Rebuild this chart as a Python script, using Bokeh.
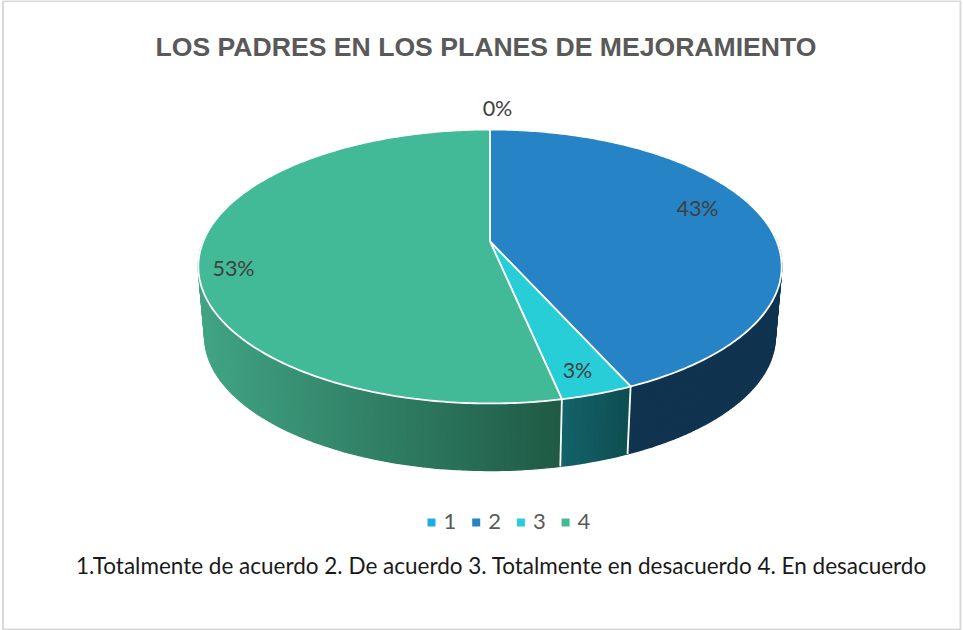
import numpy as np
from bokeh.plotting import figure
from bokeh.models import Range1d
from bokeh.core.properties import value
from bokeh.embed import file_html
from bokeh.resources import INLINE

# ---- data ----
categories = ["1", "2", "3", "4"]
shares = [0.0, 43.3, 3.4, 53.3]
pct_labels = ["0%", "43%", "3%", "53%"]
title_text = "LOS PADRES EN LOS PLANES DE MEJORAMIENTO"
note_text = "1.Totalmente de acuerdo 2. De acuerdo 3. Totalmente en desacuerdo 4. En desacuerdo"

# ---- style / layout ----
top_colors = ["#1CADE4", "#2683C6", "#27CED7", "#42BA97"]
wall_left = ["#0F4F6C", "#10344F", "#13636A", "#41A484"]
wall_right = ["#0F4F6C", "#10344F", "#0E4E50", "#1F5A45"]
label_x = [497, 697, 577, 233]
label_y = [107.5, 207.5, 369.5, 267.5]

CX, CY, RX, RY, TILT = 489.5, 241.0, 286.8, 132.4, 0.1825
SCALE, CY2 = 0.978, 311.6


def top_xy(theta):
    u, v = np.sin(theta), np.cos(theta)
    d = 1 + TILT * v
    return RX * u / d, -RY * v / d


def hexrgb(c):
    return np.array([int(c[i:i + 2], 16) for i in (1, 3, 5)], dtype=float)


def mix(a, b, f):
    r = hexrgb(a) * (1 - f) + hexrgb(b) * f
    return "#%02x%02x%02x" % tuple(int(round(x)) for x in r)


p = figure(width=963, height=630, x_range=Range1d(0, 963), y_range=Range1d(630, 0),
           output_backend="svg", toolbar_location=None, min_border=0,
           outline_line_color=None, background_fill_color="white", border_fill_color="white")
p.axis.visible = False
p.grid.visible = False

# frame
p.line([2.5, 960, 960, 2.5, 2.5], [0.5, 0.5, 629, 629, 0.5], line_color="#D9D9D9", line_width=2)

fractions = np.array(shares) / sum(shares)
edges = np.concatenate([[0], np.cumsum(fractions)]) * 2 * np.pi

# side walls (strips, front half only)
xs, ys, cs = [], [], []
for i in range(len(shares)):
    a, b = edges[i], edges[i + 1]
    if b <= a:
        continue
    t = np.linspace(a, b, max(3, int((b - a) * 60)))
    t = t[np.cos(t) < 0.05] if np.any(np.cos(t) < 0.05) else t
    dx, dy = top_xy(t)
    span = max(dx.max() - dx.min(), 1)
    for k in range(len(t) - 1):
        x1, y1 = dx[k:k + 2], dy[k:k + 2]
        xs.append(list(CX + x1) + list(CX + SCALE * x1[::-1]))
        ys.append(list(CY + y1) + list(CY2 + SCALE * y1[::-1]))
        cs.append(mix(wall_left[i], wall_right[i], (x1.mean() - dx.min()) / span))
p.patches(xs, ys, fill_color=cs, line_color=cs, line_width=1.4)

# white edges between walls
for e in edges[1:-1]:
    if np.cos(e) < 0:
        ex, ey = top_xy(np.array([e]))
        p.line([CX + ex[0], CX + SCALE * ex[0]], [CY + ey[0], CY2 + SCALE * ey[0]],
               line_color="white", line_width=1.8)

# top face
for i in range(len(shares)):
    a, b = edges[i], edges[i + 1]
    if b <= a:
        continue
    t = np.linspace(a, b, max(3, int((b - a) * 80)))
    dx, dy = top_xy(t)
    p.patch([CX] + list(CX + dx), [CY] + list(CY + dy), fill_color=top_colors[i],
            line_color="white", line_width=1.8, line_join="round")

# percentage labels
p.text(label_x, label_y, text=pct_labels, text_align="center", text_baseline="middle",
       text_font=value("Lato"), text_font_size="21.5px", text_color="#404040")

# title
p.text([485.5], [46], text=[title_text], text_align="center", text_baseline="middle",
       text_font=value("Liberation Sans"), text_font_style="bold", text_font_size="26.6px",
       text_color="#595959")

# legend
n = np.arange(len(categories))
p.rect(431 + 44.7 * n, [522] * len(n), width=8, height=8, fill_color=top_colors, line_color=None)
p.text(443 + 44.7 * n, [521] * len(n), text=categories, text_align="left", text_baseline="middle",
       text_font=value("Lato"), text_font_size="22px", text_color="#595959")

# note
p.text([75.5], [565], text=[note_text], text_align="left", text_baseline="middle",
       text_font=value("Lato"), text_font_size="22.5px", text_color="#1a1a1a")

open("out.html", "w").write(file_html(p, INLINE))
